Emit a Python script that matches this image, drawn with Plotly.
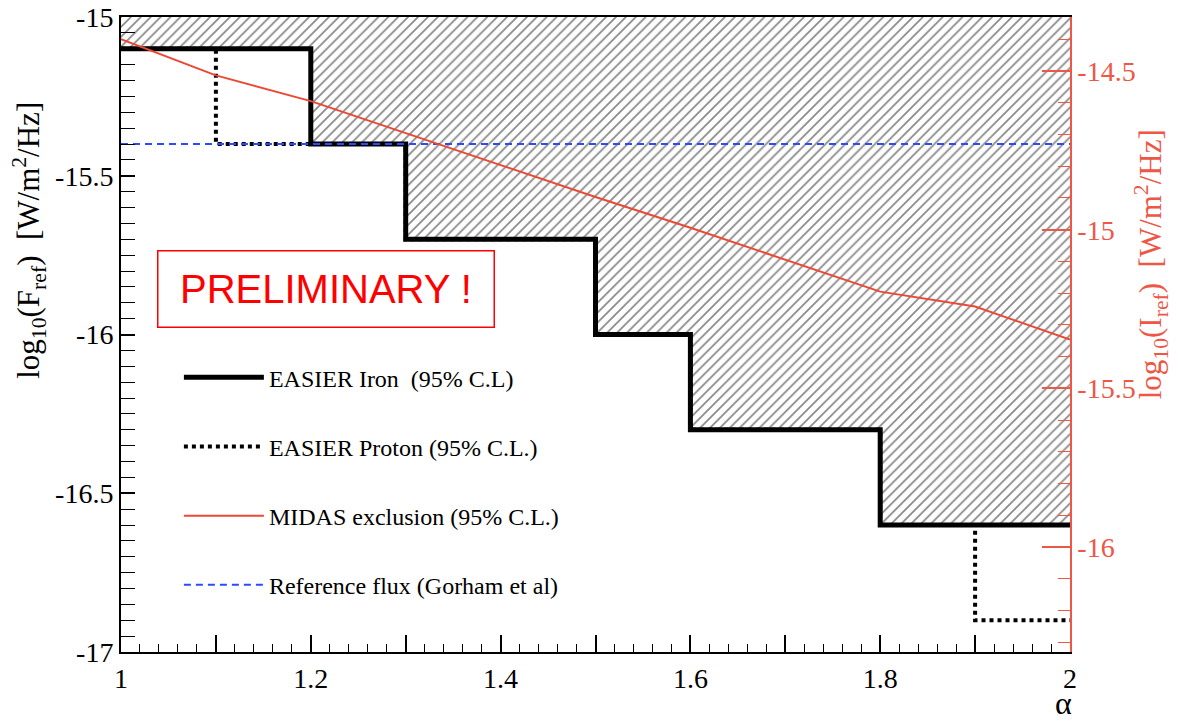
import plotly.graph_objects as go

# ---------------- data ----------------
alpha_edges = [1.0, 1.1, 1.2, 1.3, 1.4, 1.5, 1.6, 1.7, 1.8, 1.9, 2.0]
iron_limit = [-15.1, -15.1, -15.4, -15.7, -15.7, -16.0, -16.3, -16.3, -16.6, -16.6]
proton_limit = [-15.1, -15.4, -15.4, -15.7, -15.7, -16.0, -16.3, -16.3, -16.6, -16.9]
midas_alpha = [1.0, 1.1, 1.2, 1.3, 1.4, 1.5, 1.6, 1.7, 1.8, 1.9, 2.0]
midas_limit = [-14.40, -14.514, -14.595, -14.696, -14.796, -14.897, -14.994, -15.094, -15.195, -15.242, -15.346]
ref_alpha = [1.0, 2.0]
ref_flux = [-15.4, -15.4]
top_level = [-15.0] * len(alpha_edges)

x_tickvals = [1.0, 1.1, 1.2, 1.3, 1.4, 1.5, 1.6, 1.7, 1.8, 1.9, 2.0]
x_ticktext = ["1", "", "1.2", "", "1.4", "", "1.6", "", "1.8", "", "2"]
yl_tickvals = [-17.0, -16.5, -16.0, -15.5, -15.0]
yl_ticktext = ["-17", "-16.5", "-16", "-15.5", "-15"]
yr_tickvals = [-16.0, -15.5, -15.0, -14.5]
yr_ticktext = ["-16", "-15.5", "-15", "-14.5"]

SERIF = "Liberation Serif"
RED = "rgb(236,72,52)"
AXRED = "rgb(238,86,70)"

iron_y = iron_limit + [iron_limit[-1]]
proton_y = proton_limit + [proton_limit[-1]]

fig = go.Figure()

# hatched excluded region (between top of frame and iron limit)
fig.add_trace(go.Scatter(x=alpha_edges, y=top_level, mode="lines",
                         line=dict(width=0, color="black", shape="hv"),
                         showlegend=False, hoverinfo="skip"))
fig.add_trace(go.Scatter(x=alpha_edges, y=iron_y, mode="lines",
                         line=dict(width=0, color="black", shape="hv"),
                         fill="tonexty", fillcolor="rgba(0,0,0,0)",
                         fillpattern=dict(shape="/", fgcolor="rgb(20,20,20)", bgcolor="white",
                                          size=7, solidity=0.25),
                         showlegend=False, hoverinfo="skip"))

fig.add_trace(go.Scatter(x=alpha_edges, y=proton_y, mode="lines",
                         name="EASIER Proton (95% C.L.)", legendrank=2, legendgroup="p",
                         line=dict(width=4, color="black", shape="hv", dash="4px,4px")))
fig.add_trace(go.Scatter(x=alpha_edges, y=iron_y, mode="lines",
                         name="EASIER Iron  (95% C.L)", legendrank=1, legendgroup="i",
                         line=dict(width=5, color="black", shape="hv")))
fig.add_trace(go.Scatter(x=midas_alpha, y=midas_limit, mode="lines", yaxis="y2",
                         name="MIDAS exclusion (95% C.L.)", legendrank=3, legendgroup="m",
                         line=dict(width=2, color=RED)))
fig.add_trace(go.Scatter(x=ref_alpha, y=ref_flux, mode="lines",
                         name="Reference flux (Gorham et al)", legendrank=4, legendgroup="r",
                         line=dict(width=2, color="rgb(45,75,250)", dash="7px,5px")))

fig.update_layout(
    width=1178, height=722,
    margin=dict(l=121, r=108, t=17, b=70, autoexpand=False),
    paper_bgcolor="white", plot_bgcolor="white",
    font=dict(family=SERIF, color="black"),
    legend=dict(x=0.061, y=0.4675, xanchor="left", yanchor="top",
                bgcolor="rgba(0,0,0,0)", font=dict(family=SERIF, size=24),
                tracegroupgap=35, itemwidth=80, traceorder="grouped"),
    xaxis=dict(range=[1, 2], showgrid=False, zeroline=False, automargin=False,
               showline=True, linecolor="black", linewidth=2, mirror=True,
               ticks="inside", tickvals=x_tickvals, ticktext=x_ticktext,
               ticklen=17, tickwidth=1.5, tickcolor="black",
               minor=dict(dtick=0.02, tick0=1.0, ticks="inside", ticklen=8,
                          tickwidth=1.2, tickcolor="black", showgrid=False),
               tickfont=dict(family=SERIF, size=28, color="black")),
    yaxis=dict(range=[-17, -15], showgrid=False, zeroline=False, automargin=False,
               showline=True, linecolor="black", linewidth=2,
               ticks="inside", tickvals=yl_tickvals, ticktext=yl_ticktext,
               ticklen=14, tickwidth=1.5, tickcolor="black",
               minor=dict(dtick=0.05, tick0=-15, ticks="inside", ticklen=14, tickwidth=1.2,
                          tickcolor="black", showgrid=False),
               tickfont=dict(family=SERIF, size=28, color="black")),
    yaxis2=dict(range=[-16.33, -14.33], overlaying="y", side="right", anchor="x",
                showgrid=False, zeroline=False, automargin=False,
                showline=True, linecolor=AXRED, linewidth=1.5,
                ticks="inside", tickvals=yr_tickvals, ticktext=yr_ticktext,
                ticklen=28, tickwidth=1.5, tickcolor=AXRED,
                minor=dict(dtick=0.1, tick0=-14.5, ticks="inside", ticklen=12, tickwidth=1.2,
                           tickcolor=AXRED, showgrid=False),
                tickfont=dict(family=SERIF, size=28, color=AXRED)),
    yaxis3=dict(range=[-16.33, -14.33], overlaying="y", side="left", anchor="x",
                showgrid=False, zeroline=False, showline=False, automargin=False,
                ticks="inside", tick0=-14.4, dtick=0.2, ticklen=28, tickwidth=1.5,
                tickcolor="black", showticklabels=False),
)

fig.add_annotation(xref="paper", yref="paper", x=0.2155, y=0.571,
                   xanchor="center", yanchor="middle",
                   text="PRELIMINARY !", showarrow=False,
                   font=dict(family="Liberation Sans", size=40, color="red"),
                   width=333, height=73, bordercolor="red", borderwidth=1.5,
                   bgcolor="white", align="center", valign="middle")

fig.add_annotation(xref="paper", yref="paper", x=-0.097, y=0.649,
                   text="log<sub>10</sub>(F<sub>ref</sub>)  [W/m<sup>2</sup>/Hz]",
                   textangle=-90, showarrow=False, xanchor="center", yanchor="middle",
                   font=dict(family=SERIF, size=31, color="black"))
fig.add_annotation(xref="paper", yref="paper", x=1.085, y=0.61,
                   text="log<sub>10</sub>(I<sub>ref</sub>)  [W/m<sup>2</sup>/Hz]",
                   textangle=-90, showarrow=False, xanchor="center", yanchor="middle",
                   font=dict(family=SERIF, size=31, color=AXRED))
fig.add_annotation(xref="paper", yref="paper", x=0.993, y=-0.08,
                   text="α", showarrow=False, xanchor="center", yanchor="middle",
                   font=dict(family=SERIF, size=32, color="black"))

fig.write_html("out.html")
